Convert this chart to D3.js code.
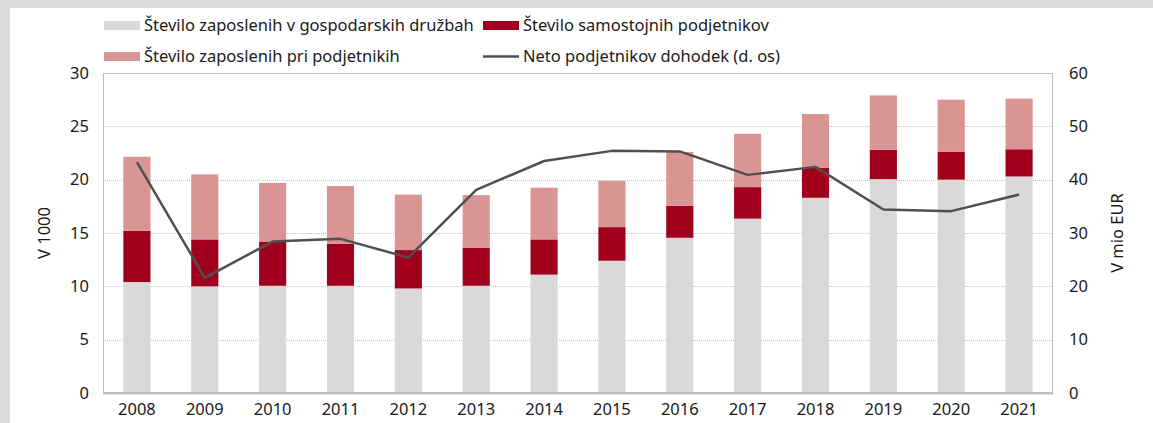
<!DOCTYPE html>
<html>
<head>
<meta charset="utf-8">
<script src="https://cdn.jsdelivr.net/npm/d3@7"></script>
<style>
	body { margin: 0; background: #dcdcdc; }
	svg { display: block; }
	text { font-family: "Noto Sans", sans-serif; fill: #1a1a1a; }
</style>
</head>
<body>
<div id="chart"></div>
<script>

var years = ['2008', '2009', '2010', '2011', '2012', '2013', '2014', '2015', '2016', '2017', '2018', '2019', '2020', '2021'];

// thousands (left axis)
var employedCompanies = [10.4, 10.0, 10.05, 10.05, 9.8, 10.05, 11.1, 12.4, 14.55, 16.35, 18.3, 20.05, 20.0, 20.3];
var soleTraders = [4.8, 4.4, 4.15, 3.95, 3.6, 3.55, 3.3, 3.15, 3.0, 2.95, 2.8, 2.75, 2.6, 2.55];
var employedTraders = [6.95, 6.1, 5.5, 5.4, 5.2, 4.95, 4.85, 4.35, 5.05, 5.0, 5.05, 5.1, 4.9, 4.75];

// mio EUR (right axis)
var netIncome = [43.3, 21.6, 28.4, 28.9, 25.4, 38.1, 43.5, 45.4, 45.3, 40.9, 42.4, 34.4, 34.1, 37.2];

var leftTicks = [0, 5, 10, 15, 20, 25, 30];
var rightTicks = [0, 10, 20, 30, 40, 50, 60];

var seriesNames = ['Število zaposlenih v gospodarskih družbah', 'Število samostojnih podjetnikov', 'Število zaposlenih pri podjetnikih'];
var lineName = 'Neto podjetnikov dohodek (d. os)';
var colors = ['#d9d9d9', '#a0001e', '#d99594'];
var lineColor = '#505050';

var width = 1153, height = 423;
var margin = {left: 103, right: 100, top: 73, bottom: 30};
var fontSize = '16.5px';

var svg = d3.select('#chart').append('svg')
	.attr('width', width)
	.attr('height', height);

// white panel with grey frame on top/left
svg.append('rect')
	.attr('x', 10)
	.attr('y', 8)
	.attr('width', width - 10)
	.attr('height', height - 8)
	.attr('fill', 'white');

var x = d3.scaleBand()
	.domain(years)
	.range([margin.left, width - margin.right])
	.paddingInner(0.6)
	.paddingOuter(0.3);

var y = d3.scaleLinear().domain([0, 30]).range([height - margin.bottom, margin.top]);
var y2 = d3.scaleLinear().domain([0, 60]).range([height - margin.bottom, margin.top]);

// gridlines
svg.append('g')
	.selectAll('line')
	.data(leftTicks.filter(function(d) {return d > 0 && d < 30;}))
	.enter().append('line')
	.attr('x1', margin.left)
	.attr('x2', width - margin.right)
	.attr('y1', function(d) {return Math.round(y(d)) + 0.5;})
	.attr('y2', function(d) {return Math.round(y(d)) + 0.5;})
	.attr('stroke', '#c0c0c0')
	.attr('stroke-width', 1)
	.attr('stroke-dasharray', '1,1');

// stacked bars
var table = years.map(function(yr, i) {
	return {year: yr, a: employedCompanies[i], b: soleTraders[i], c: employedTraders[i]};
});
var stacked = d3.stack().keys(['a', 'b', 'c'])(table);

svg.append('g')
	.selectAll('g')
	.data(stacked)
	.enter().append('g')
	.attr('fill', function(d, i) {return colors[i];})
	.selectAll('rect')
	.data(function(d) {return d;})
	.enter().append('rect')
	.attr('x', function(d) {return x(d.data.year);})
	.attr('width', x.bandwidth())
	.attr('y', function(d) {return y(d[1]);})
	.attr('height', function(d) {return y(d[0]) - y(d[1]);});

// frame of the plot area
svg.append('rect')
	.attr('x', margin.left + 0.5)
	.attr('y', margin.top + 0.5)
	.attr('width', width - margin.right - margin.left - 1)
	.attr('height', height - margin.bottom - margin.top - 1)
	.attr('fill', 'none')
	.attr('stroke', '#bfbfbf')
	.attr('stroke-width', 1);

svg.append('line')
	.attr('x1', margin.left)
	.attr('x2', width - margin.right)
	.attr('y1', y(0) + 0.5)
	.attr('y2', y(0) + 0.5)
	.attr('stroke', '#bfbfbf')
	.attr('stroke-width', 2);

// net income line
var line = d3.line()
	.x(function(d, i) {return x(years[i]) + x.bandwidth() / 2;})
	.y(function(d) {return y2(d);});

svg.append('path')
	.datum(netIncome)
	.attr('d', line)
	.attr('fill', 'none')
	.attr('stroke', lineColor)
	.attr('stroke-width', 2.5)
	.attr('stroke-linejoin', 'round');

// axes
var leftAxis = svg.append('g')
	.attr('transform', 'translate(' + margin.left + ',0)')
	.call(d3.axisLeft(y).tickValues(leftTicks).tickSize(0).tickPadding(14));

var rightAxis = svg.append('g')
	.attr('transform', 'translate(' + (width - margin.right) + ',0)')
	.call(d3.axisRight(y2).tickValues(rightTicks).tickSize(0).tickPadding(16));

var bottomAxis = svg.append('g')
	.attr('transform', 'translate(0,' + y(0) + ')')
	.call(d3.axisBottom(x).tickSize(0).tickPadding(10));

[leftAxis, rightAxis, bottomAxis].forEach(function(a) {
	a.select('.domain').remove();
	a.selectAll('text')
		.attr('font-size', fontSize)
		.attr('font-family', '"Noto Sans", sans-serif')
		.attr('fill', '#1a1a1a');
});

// axis titles
svg.append('text')
	.attr('transform', 'translate(50,' + y(15) + ') rotate(-90)')
	.attr('text-anchor', 'middle')
	.attr('font-size', fontSize)
	.text('V 1000');

svg.append('text')
	.attr('transform', 'translate(1123,' + y(15) + ') rotate(-90)')
	.attr('text-anchor', 'middle')
	.attr('font-size', fontSize)
	.text('V mio EUR');

// legend
var legendItems = [
	{name: seriesNames[0], color: colors[0], type: 'rect', x: 104, y: 25},
	{name: seriesNames[1], color: colors[1], type: 'rect', x: 483, y: 25},
	{name: seriesNames[2], color: colors[2], type: 'rect', x: 104, y: 56},
	{name: lineName, color: lineColor, type: 'line', x: 483, y: 56}
];

var legend = svg.append('g')
	.selectAll('g')
	.data(legendItems)
	.enter().append('g')
	.attr('transform', function(d) {return 'translate(' + d.x + ',' + d.y + ')';});

legend.filter(function(d) {return d.type == 'rect';}).append('rect')
	.attr('x', 0)
	.attr('y', -4)
	.attr('width', 36)
	.attr('height', 9)
	.attr('fill', function(d) {return d.color;});

legend.filter(function(d) {return d.type == 'line';}).append('line')
	.attr('x1', 0)
	.attr('x2', 36)
	.attr('y1', 0.5)
	.attr('y2', 0.5)
	.attr('stroke', function(d) {return d.color;})
	.attr('stroke-width', 2.5);

legend.append('text')
	.attr('x', 40)
	.attr('y', 0)
	.attr('dy', '0.35em')
	.attr('font-size', fontSize)
	.text(function(d) {return d.name;});

</script>
</body>
</html>
